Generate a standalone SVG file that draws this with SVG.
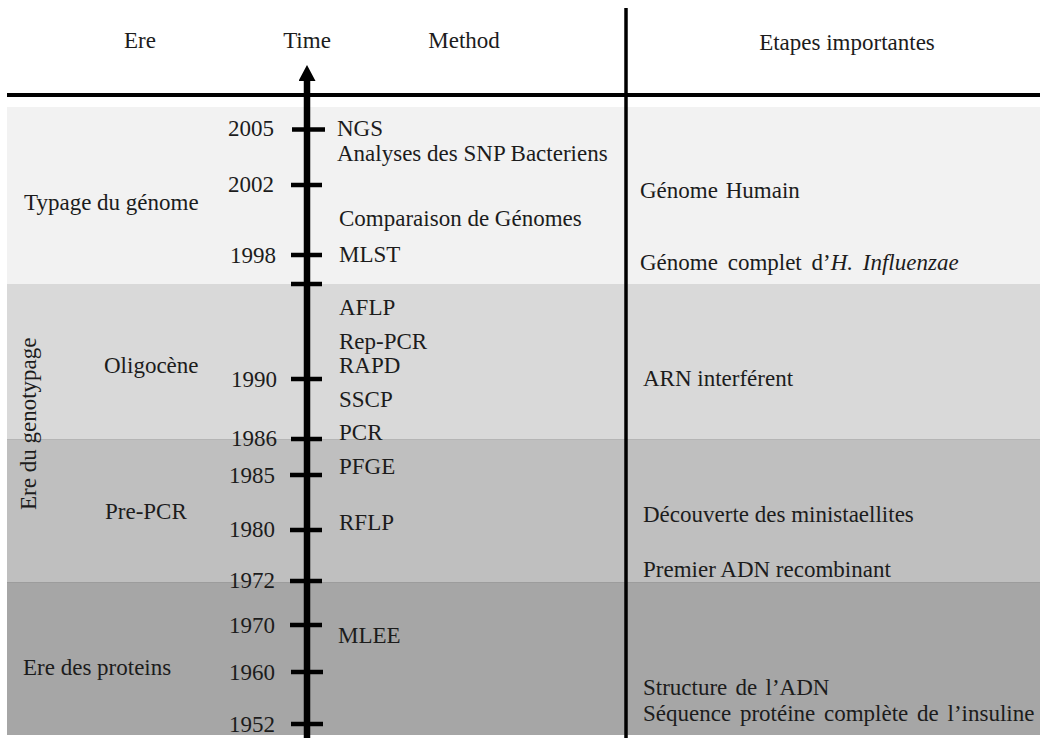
<svg xmlns="http://www.w3.org/2000/svg" width="1040" height="738" viewBox="0 0 1040 738">
  <style>
    .t { font-family: 'Liberation Serif', 'Times New Roman', Times, 'DejaVu Serif', serif; font-size: 23px; fill: #1c1c1c; }
    .tick { stroke: #000; stroke-width: 4.5; }
    .rule { stroke: #000; stroke-width: 4; }
  </style>
  <defs>
    <marker id="arrowhead" viewBox="0 0 17 16" refX="8.5" refY="15" markerWidth="17" markerHeight="16" markerUnits="userSpaceOnUse" orient="0">
      <path d="M0 16 L8.5 0 L17 16 Z" fill="#000"/>
    </marker>
  </defs>

  <rect width="1040" height="738" fill="#fff"/>

  <!-- era bands -->
  <g id="bands">
    <rect x="7" y="107" width="1033" height="177" fill="#f2f2f2"/>
    <rect x="7" y="284" width="1033" height="155" fill="#d9d9d9"/>
    <rect x="7" y="439" width="1033" height="143" fill="#bfbfbf"/>
    <rect x="7" y="582" width="1033" height="153" fill="#a6a6a6"/>
    <line x1="7" y1="439.5" x2="1040" y2="439.5" stroke="#b5b5b5" stroke-width="1"/>
    <line x1="7" y1="582.5" x2="1040" y2="582.5" stroke="#9c9c9c" stroke-width="1"/>
  </g>

  <!-- table rules -->
  <g id="rules">
    <line class="rule" x1="7" y1="95" x2="1040" y2="95"/>
    <line x1="626" y1="8" x2="626" y2="738" stroke="#000" stroke-width="3.5"/>
  </g>

  <g class="t" font-family="Liberation Serif, DejaVu Serif, serif" font-size="23">
  <!-- column headers -->
  <g id="headers">
    <text x="140" y="48" text-anchor="middle">Ere</text>
    <text x="307" y="48" text-anchor="middle">Time</text>
    <text x="464" y="48" text-anchor="middle">Method</text>
    <text x="847" y="50" text-anchor="middle">Etapes importantes</text>
  </g>

  <!-- era labels -->
  <g id="eras">
    <text x="24" y="210">Typage du génome</text>
    <text transform="translate(36 510) rotate(-90)">Ere du genotypage</text>
    <text x="104" y="373">Oligocène</text>
    <text x="105" y="519">Pre-PCR</text>
    <text x="23" y="675">Ere des proteins</text>
  </g>

  <!-- years -->
  <g id="years" text-anchor="end">
    <text x="274" y="136">2005</text>
    <text x="274" y="192">2002</text>
    <text x="276" y="263">1998</text>
    <text x="277" y="387">1990</text>
    <text x="277" y="446">1986</text>
    <text x="275" y="483">1985</text>
    <text x="275" y="537">1980</text>
    <text x="275" y="588">1972</text>
    <text x="275" y="633">1970</text>
    <text x="275" y="680">1960</text>
    <text x="275" y="732">1952</text>
  </g>

  <!-- methods -->
  <g id="methods">
    <text x="337" y="136">NGS</text>
    <text x="337" y="161">Analyses des SNP Bacteriens</text>
    <text x="339" y="226">Comparaison de Génomes</text>
    <text x="339" y="262">MLST</text>
    <text x="339" y="315">AFLP</text>
    <text x="339" y="349">Rep-PCR</text>
    <text x="339" y="373">RAPD</text>
    <text x="339" y="407">SSCP</text>
    <text x="339" y="440">PCR</text>
    <text x="339" y="474">PFGE</text>
    <text x="339" y="530">RFLP</text>
    <text x="338" y="643">MLEE</text>
  </g>

  <!-- milestones -->
  <g id="milestones">
    <text x="640" y="198" word-spacing="2">Génome Humain</text>
    <text x="640" y="270" word-spacing="4">Génome complet d’<tspan font-style="italic">H. Influenzae</tspan></text>
    <text x="643" y="386">ARN interférent</text>
    <text x="643" y="522">Découverte des ministaellites</text>
    <text x="643" y="577">Premier ADN recombinant</text>
    <text x="643" y="695" word-spacing="2.5">Structure de l’ADN</text>
    <text x="643" y="721" word-spacing="3">Séquence protéine complète de l’insuline</text>
  </g>
  </g>

  <!-- time axis -->
  <g id="axis">
    <line x1="307" y1="738" x2="307" y2="80" stroke="#000" stroke-width="6.5" marker-end="url(#arrowhead)"/>
    <line class="tick" x1="292" y1="129.5" x2="325" y2="129.5"/>
    <line class="tick" x1="291" y1="185" x2="322" y2="185"/>
    <line class="tick" x1="291" y1="255" x2="322" y2="255"/>
    <line class="tick" x1="291" y1="284" x2="322" y2="284"/>
    <line class="tick" x1="291" y1="379" x2="322" y2="379"/>
    <line class="tick" x1="291" y1="439" x2="322" y2="439"/>
    <line class="tick" x1="290" y1="475" x2="322" y2="475"/>
    <line class="tick" x1="290" y1="530" x2="322" y2="530"/>
    <line class="tick" x1="290" y1="581" x2="322" y2="581"/>
    <line class="tick" x1="290" y1="625" x2="322" y2="625"/>
    <line class="tick" x1="291" y1="672" x2="323" y2="672"/>
    <line class="tick" x1="291" y1="724" x2="323" y2="724"/>
  </g>
</svg>
